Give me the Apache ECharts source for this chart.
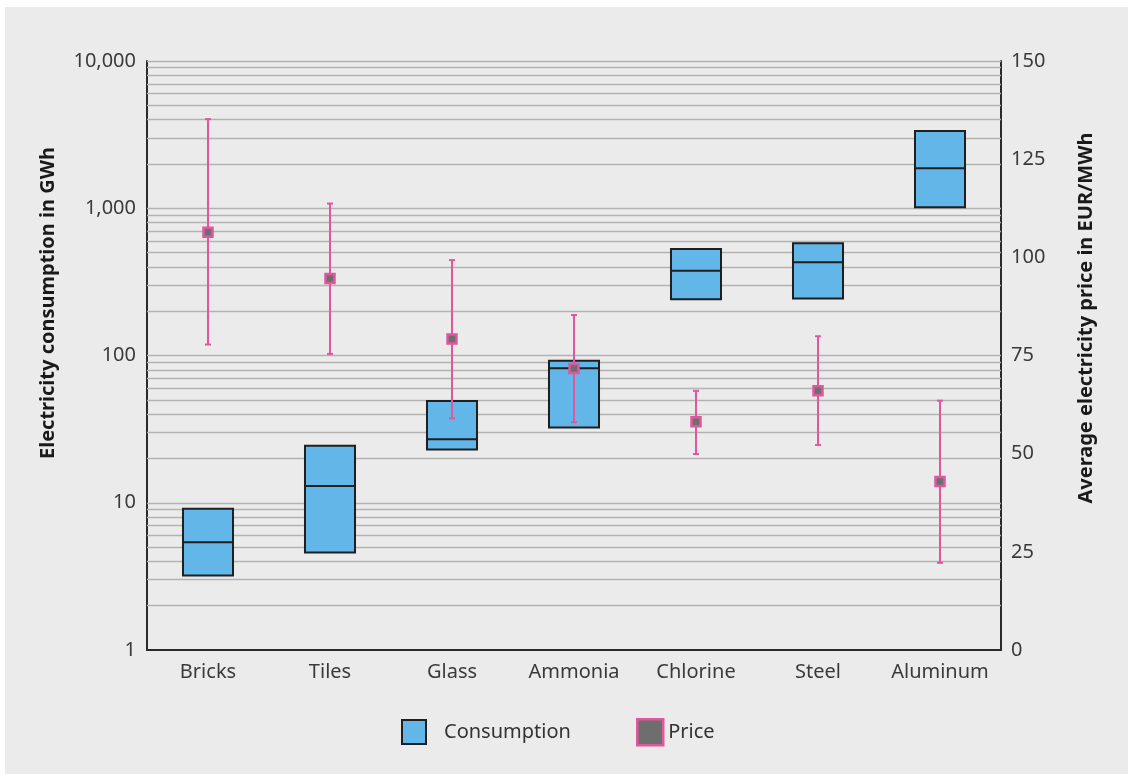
<!DOCTYPE html>
<html>
<head>
<meta charset="utf-8">
<script src="https://cdn.jsdelivr.net/npm/echarts@6/dist/echarts.min.js"></script>
<style>
  html, body { margin: 0; padding: 0; background: #ffffff; }
  #panel { position: absolute; left: 5px; top: 7px; width: 1123px; height: 767px; background: #ebebeb; }
  #chart { position: absolute; left: -5px; top: -7px; width: 1128px; height: 774px; }
</style>
</head>
<body>
<div id="panel"><div id="chart"></div></div>
<script>
// Industries shown along the x axis
const categories = ['Bricks', 'Tiles', 'Glass', 'Ammonia', 'Chlorine', 'Steel', 'Aluminum'];

// Electricity consumption in GWh: lower edge, median, upper edge of each box
const consumptionLow    = [3.2, 4.6, 23, 32.5, 241, 244, 1015];
const consumptionMedian = [5.4, 13, 27, 82, 376, 430, 1870];
const consumptionHigh   = [9.1, 24.4, 49, 92, 529, 578, 3350];

// Average electricity price in EUR/MWh: whisker bottom, mean, whisker top
const priceLow  = [77.8, 75.4, 59.0, 58.0, 49.9, 52.2, 22.2];
const priceMean = [106.4, 94.6, 79.2, 71.7, 58.1, 66.0, 42.9];
const priceHigh = [135.2, 113.7, 99.3, 85.3, 66.0, 79.9, 63.5];

// Tick labels
const leftTicks = [1, 10, 100, 1000, 10000];
const rightTicks = [0, 25, 50, 75, 100, 125, 150];

// Horizontal log grid: every integer multiple inside each decade
const decades = [1, 10, 100, 1000];
const gridValues = [];
decades.forEach(d => { for (let m = 2; m <= 10; m++) gridValues.push(d * m); });

const FONT = 'Noto Sans';
const BLUE = '#63b6e8';
const PINK = '#e0579d';
const EDGE = '#1f1f1f';
const GREY_MARK = '#6e6e6e';

const chart = echarts.init(document.getElementById('chart'), null, { renderer: 'canvas' });

const boxData = categories.map((c, i) => [i, consumptionLow[i], consumptionMedian[i], consumptionHigh[i]]);
const priceData = categories.map((c, i) => [i, priceLow[i], priceMean[i], priceHigh[i]]);

const legendText = { fontFamily: FONT, fontSize: 20, color: '#333' };

chart.setOption({
  backgroundColor: 'transparent',
  animation: false,
  grid: { left: 147, right: 127, top: 61, bottom: 124 },
  legend: [
    {
      left: 396, top: 714,
      itemWidth: 24, itemHeight: 24,
      selectedMode: false,
      textStyle: Object.assign({ padding: [0, 0, 0, 13] }, legendText),
      data: [{ name: 'Consumption', icon: 'rect', itemStyle: { color: BLUE, borderColor: EDGE, borderWidth: 2 } }]
    },
    {
      left: 631, top: 713,
      itemWidth: 26, itemHeight: 26,
      selectedMode: false,
      textStyle: Object.assign({ padding: [0, 0, 0, 0] }, legendText),
      data: [{ name: 'Price', icon: 'rect', itemStyle: { color: GREY_MARK, borderColor: PINK, borderWidth: 2.5 } }]
    }
  ],
  xAxis: {
    type: 'category',
    data: categories,
    boundaryGap: true,
    axisLine: { lineStyle: { color: '#2a2a2a', width: 2 } },
    axisTick: { show: false },
    axisLabel: { interval: 0, fontFamily: FONT, fontSize: 20, color: '#3a3a3a', margin: 12 },
    splitLine: { show: false }
  },
  yAxis: [
    {
      type: 'log',
      logBase: 10,
      min: leftTicks[0],
      max: leftTicks[leftTicks.length - 1],
      axisLine: { show: true, lineStyle: { color: '#2a2a2a', width: 2 } },
      axisTick: { show: false },
      splitLine: { show: false },
      axisLabel: {
        fontFamily: FONT, fontSize: 20, color: '#3a3a3a', margin: 11,
        formatter: v => Number(v).toLocaleString('en-US')
      }
    },
    {
      type: 'value',
      min: rightTicks[0],
      max: rightTicks[rightTicks.length - 1],
      interval: 25,
      position: 'right',
      axisLine: { show: true, lineStyle: { color: '#2a2a2a', width: 2 } },
      axisTick: { show: false },
      splitLine: { show: false },
      axisLabel: { fontFamily: FONT, fontSize: 20, color: '#3a3a3a', margin: 10 }
    }
  ],
  graphic: [
    {
      type: 'text', x: 48, y: 303, rotation: Math.PI / 2,
      style: {
        text: 'Electricity consumption in GWh', fontFamily: FONT, fontSize: 20,
        fontWeight: 'bold', fill: '#1a1a1a', align: 'center', verticalAlign: 'middle'
      }
    },
    {
      type: 'text', x: 1086, y: 318, rotation: Math.PI / 2,
      style: {
        text: 'Average electricity price in EUR/MWh', fontFamily: FONT, fontSize: 20,
        fontWeight: 'bold', fill: '#1a1a1a', align: 'center', verticalAlign: 'middle'
      }
    }
  ],
  series: [
    {
      // horizontal grid lines on the log scale
      type: 'line',
      yAxisIndex: 0,
      data: [],
      z: 1,
      silent: true,
      markLine: {
        z: 1,
        silent: true,
        symbol: ['none', 'none'],
        label: { show: false },
        lineStyle: { color: '#b2b2b2', width: 1.3, type: 'solid' },
        emphasis: { disabled: true },
        data: gridValues.map(v => ({ yAxis: v }))
      }
    },
    {
      name: 'Consumption',
      type: 'custom',
      yAxisIndex: 0,
      z: 6,
      itemStyle: { color: BLUE },
      data: boxData,
      renderItem: (params, api) => {
        const i = api.value(0);
        const lo = api.coord([i, api.value(1)]);
        const med = api.coord([i, api.value(2)]);
        const hi = api.coord([i, api.value(3)]);
        const w = api.size([1, 0])[0] * 0.41;
        const x0 = lo[0] - w / 2;
        return {
          type: 'group',
          children: [
            {
              type: 'rect',
              shape: { x: x0, y: hi[1], width: w, height: lo[1] - hi[1] },
              style: { fill: BLUE, stroke: EDGE, lineWidth: 2 }
            },
            {
              type: 'line',
              shape: { x1: x0, y1: med[1], x2: x0 + w, y2: med[1] },
              style: { stroke: EDGE, lineWidth: 2 }
            }
          ]
        };
      }
    },
    {
      name: 'Price',
      type: 'custom',
      yAxisIndex: 1,
      z: 7,
      itemStyle: { color: GREY_MARK, borderColor: PINK },
      data: priceData,
      renderItem: (params, api) => {
        const i = api.value(0);
        const lo = api.coord([i, api.value(1)]);
        const mid = api.coord([i, api.value(2)]);
        const hi = api.coord([i, api.value(3)]);
        const x = lo[0];
        const cap = 3;
        const s = 9;
        return {
          type: 'group',
          children: [
            { type: 'line', shape: { x1: x, y1: hi[1], x2: x, y2: lo[1] }, style: { stroke: PINK, lineWidth: 2 } },
            { type: 'line', shape: { x1: x - cap, y1: hi[1], x2: x + cap, y2: hi[1] }, style: { stroke: PINK, lineWidth: 2 } },
            { type: 'line', shape: { x1: x - cap, y1: lo[1], x2: x + cap, y2: lo[1] }, style: { stroke: PINK, lineWidth: 2 } },
            {
              type: 'rect',
              shape: { x: x - s / 2, y: mid[1] - s / 2, width: s, height: s },
              style: { fill: GREY_MARK, stroke: PINK, lineWidth: 2.5 }
            }
          ]
        };
      }
    }
  ]
});
</script>
</body>
</html>
